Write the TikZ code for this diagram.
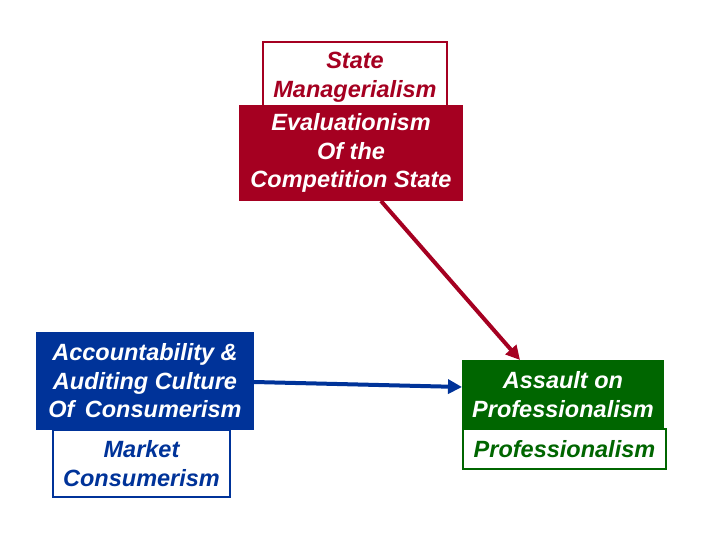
\documentclass[tikz,border=0pt]{standalone}
\usepackage{fontspec}
\setmainfont{Liberation Sans}
\usetikzlibrary{arrows.meta,calc}
\definecolor{cred}{HTML}{A50021}
\definecolor{cblue}{HTML}{003399}
\definecolor{cgreen}{HTML}{006600}
\begin{document}
\begin{tikzpicture}[x=1pt,y=-1pt,
  lbl/.style={font=\fontsize{23.5}{28.5}\selectfont\bfseries\itshape, align=center, inner sep=0pt, outer sep=0pt},
  whitebox/.style={lbl, fill=white, draw, line width=1.5pt},
  colbox/.style={lbl, text=white},
  conn/.style={line width=4pt, -{Triangle[length=14pt,width=14pt]}}]
\useasboundingbox (0,0) rectangle (720,540);
% back boxes
\node[whitebox, draw=cred, text=cred, minimum width=184pt, minimum height=70pt] (sm) at (355,77) {State\\Managerialism};
\node[whitebox, draw=cblue, text=cblue, minimum width=177pt, minimum height=67pt] (mc) at (141.5,463.5) {Market\\Consumerism};
\node[whitebox, draw=cgreen, text=cgreen, minimum width=203pt, minimum height=40pt] (pr) at (564.5,449) {Professionalism};
% front boxes
\node[colbox, fill=cred, minimum width=224pt, minimum height=96pt] (red) at (351,153) {Evaluationism\\Of the\\Competition State};
\node[colbox, fill=cblue, minimum width=218pt, minimum height=98pt] (blue) at (145,381) {Accountability \&\\Auditing Culture\\Of\, Consumerism};
\node[colbox, fill=cgreen, minimum width=202pt, minimum height=69pt] (green) at (563,394.5) {Assault on\\Professionalism};
% connectors
\draw[conn, cred] ([xshift=30pt]red.south) -- ([xshift=-43pt]green.north);
\draw[conn, cblue] ([yshift=-1pt]blue.east) -- ([yshift=7.5pt]green.west);
\end{tikzpicture}
\end{document}
